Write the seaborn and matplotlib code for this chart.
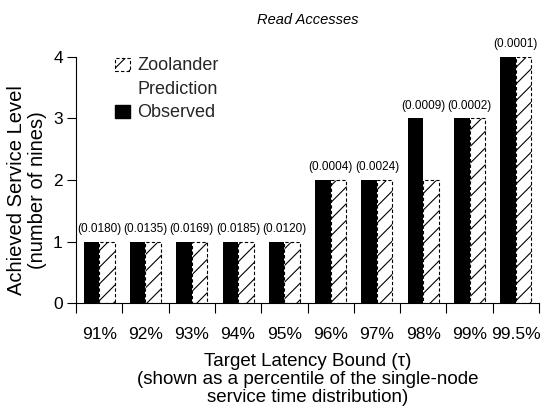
import numpy as np
import pandas as pd
import matplotlib
matplotlib.use("Agg")
import matplotlib.pyplot as plt
import seaborn as sns
from matplotlib.patches import Patch

categories = ["91%", "92%", "93%", "94%", "95%", "96%", "97%", "98%", "99%", "99.5%"]
observed = [1, 1, 1, 1, 1, 2, 2, 3, 3, 4]
prediction = [1, 1, 1, 1, 1, 2, 2, 2, 3, 4]
annotations = ["(0.0180)", "(0.0135)", "(0.0169)", "(0.0185)", "(0.0120)",
               "(0.0004)", "(0.0024)", "(0.0009)", "(0.0002)", "(0.0001)"]
yticks = [0, 1, 2, 3, 4]

sns.set_theme(style="ticks")
plt.rcParams['font.family'] = ['Liberation Sans', 'DejaVu Sans']
plt.rcParams['hatch.linewidth'] = 0.8

df = pd.DataFrame({
    "Target": categories * 2,
    "Series": ["Observed"] * len(categories) + ["Zoolander Prediction"] * len(categories),
    "Level": observed + prediction,
})

fig = plt.figure(figsize=(5.43, 4.15), dpi=100)
ax = fig.add_axes([76 / 543, 1 - 303 / 415, 463 / 543, 246 / 415])
sns.barplot(data=df, x="Target", y="Level", hue="Series",
            hue_order=["Observed", "Zoolander Prediction"],
            palette=["black", "white"], width=0.67, saturation=1,
            legend=False, ax=ax)

for p in ax.containers[0]:
    p.set_edgecolor("black")
    p.set_linewidth(0)
for p in ax.containers[1]:
    p.set_facecolor("white")
    p.set_edgecolor("black")
    p.set_hatch("//")
    p.set_linestyle((0, (3, 2)))
    p.set_linewidth(0.8)

for i, (o, pr, txt) in enumerate(zip(observed, prediction, annotations)):
    ax.annotate(txt, xy=(i, max(o, pr)), xytext=(0, 5), textcoords="offset points",
                ha="center", va="bottom", fontsize=8.5, color="black")

ax.set_xlim(-0.5, len(categories) - 0.5)
ax.set_ylim(0, 4)
ax.set_yticks(yticks)
ax.set_xticks(np.arange(-0.5, len(categories), 1))
ax.set_xticklabels([])
ax.set_xticks(np.arange(len(categories)), minor=True)
ax.set_xticklabels(categories, minor=True)

ax.tick_params(axis="x", which="major", length=7, width=0.8, direction="out", color="black")
ax.tick_params(axis="x", which="minor", length=0, pad=17, labelsize=12.5, labelcolor="black")
ax.tick_params(axis="y", length=6.5, width=0.8, direction="out", pad=3, labelsize=12.5,
               color="black", labelcolor="black")

sns.despine(ax=ax)
for s in ["left", "bottom"]:
    ax.spines[s].set_color("black")
    ax.spines[s].set_linewidth(0.8)

ax.set_xlabel("Target Latency Bound (τ)\n(shown as a percentile of the single-node\nservice time distribution)",
              fontsize=13.5, labelpad=8, color="black", linespacing=1.08)
ax.set_ylabel("Achieved Service Level\n(number of nines)", fontsize=14.5,
              color="black", linespacing=1.15)
ax.yaxis.set_label_coords(-0.063, 0.46)
ax.set_title("Read Accesses", fontstyle="italic", fontsize=10.5, pad=24, color="black")

handles = [
    Patch(facecolor="white", edgecolor="black", hatch="//", linestyle=(0, (3, 2)),
          linewidth=0.8, label="Zoolander"),
    Patch(facecolor="none", edgecolor="none", linewidth=0, label="Prediction"),
    Patch(facecolor="black", edgecolor="black", label="Observed"),
]
ax.legend(handles=handles, loc="upper left", bbox_to_anchor=(0.084, 0.998),
          borderaxespad=0, borderpad=0, frameon=False, fontsize=13,
          handlelength=0.85, handleheight=0.75, handletextpad=0.4, labelspacing=0.36)

fig.savefig("out.png", dpi=100)
